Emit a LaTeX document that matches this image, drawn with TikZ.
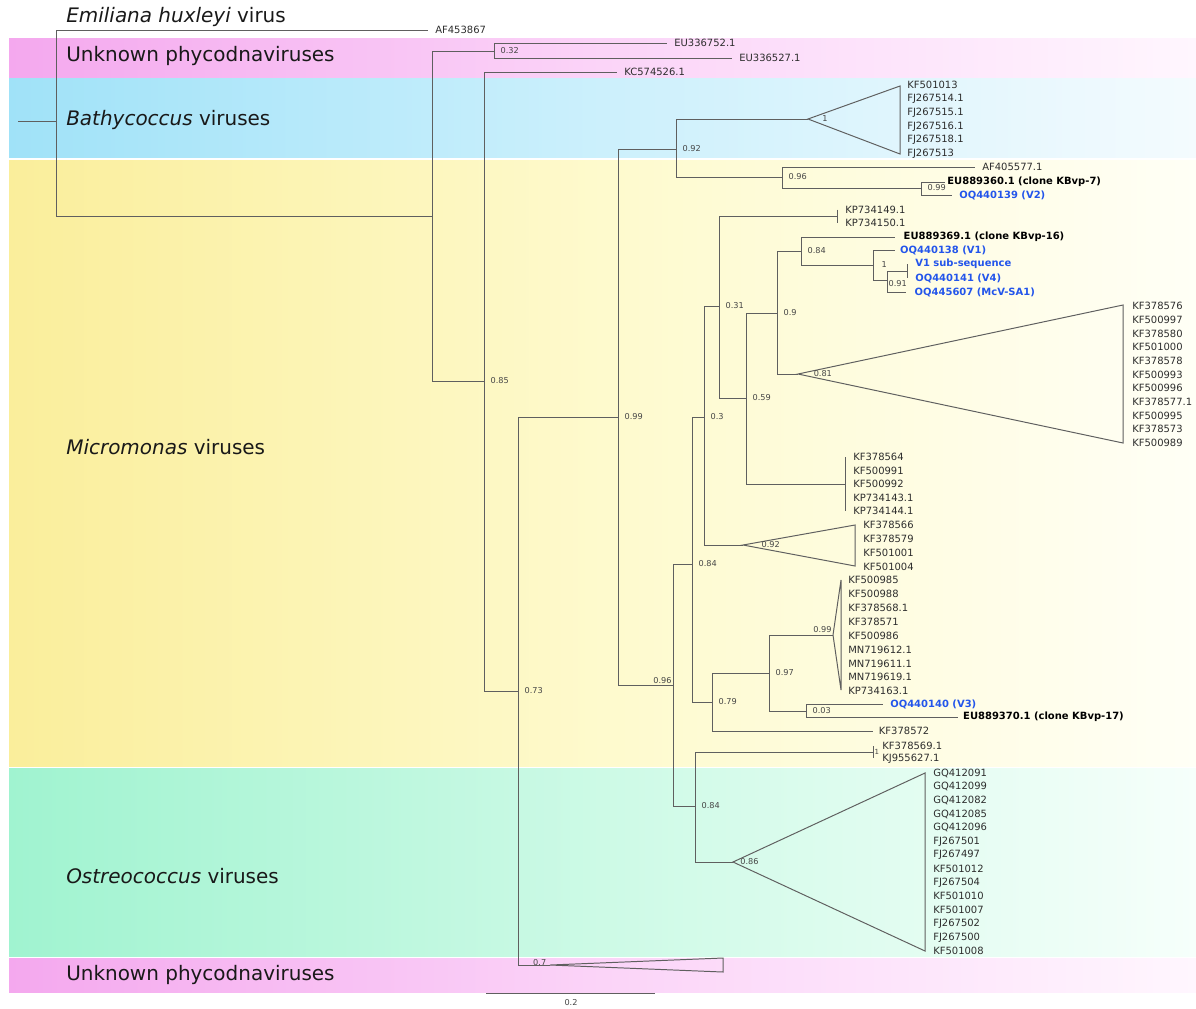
\documentclass[tikz,border=0pt]{standalone}
\usepackage{fontspec}
\setmainfont{DejaVu Sans}
\usetikzlibrary{positioning}

\definecolor{treegray}{RGB}{95,95,95}
\definecolor{labelgray}{RGB}{45,45,45}
\definecolor{supgray}{RGB}{70,70,70}
\definecolor{seqblue}{RGB}{35,85,235}
\definecolor{pinkL}{RGB}{244,168,238}
\definecolor{pinkM}{RGB}{251,212,248}
\definecolor{pinkR}{RGB}{255,246,254}
\definecolor{blueL}{RGB}{160,226,248}
\definecolor{blueM}{RGB}{204,240,252}
\definecolor{blueR}{RGB}{244,251,254}
\definecolor{yellowL}{RGB}{250,238,155}
\definecolor{yellowM}{RGB}{254,250,205}
\definecolor{yellowR}{RGB}{255,255,246}
\definecolor{greenL}{RGB}{160,243,208}
\definecolor{greenM}{RGB}{205,250,230}
\definecolor{greenR}{RGB}{246,255,251}

\tikzset{
  branch/.style={draw=treegray, line width=0.7pt},
  leaf/.style={font=\fontsize{7.1}{8}\selectfont, text=labelgray, inner sep=0pt, anchor=west},
  leafbold/.style={leaf, font=\fontsize{7.1}{8}\selectfont\bfseries, text=black},
  leafblue/.style={leafbold, text=seqblue},
  support/.style={font=\fontsize{5.8}{7}\selectfont, text=supgray, inner sep=0pt},
  group/.style={font=\fontsize{14.2}{16}\selectfont, text=black!90, inner sep=0pt, anchor=west}
}

\begin{document}
\begin{tikzpicture}[x=0.025cm, y=-0.025cm]
\useasboundingbox (0,0) rectangle (1196,1008);

\shade[left color=pinkL, right color=pinkR, middle color=pinkM] (9,38) rectangle (1196,77);
\shade[left color=blueL, right color=blueR, middle color=blueM] (9,78) rectangle (1196,157);
\shade[left color=yellowL, right color=yellowR, middle color=yellowM] (9,160) rectangle (1196,766);
\shade[left color=greenL, right color=greenR, middle color=greenM] (9,768) rectangle (1196,956);
\shade[left color=pinkL, right color=pinkR, middle color=pinkM] (9,958) rectangle (1196,992);

\node[group] (ehv) at (66,17) {\textit{Emiliana huxleyi} virus};
\node[group] (unk1) at (66,56) {Unknown phycodnaviruses};
\node[group] (bat) at (66,120) {\textit{Bathycoccus} viruses};
\node[group] (mic) at (66,447) {\textit{Micromonas} viruses};
\node[group] (ost) at (66,876) {\textit{Ostreococcus} viruses};
\node[group] (unk2) at (66,975) {Unknown phycodnaviruses};

\coordinate (rootstub) at (18,121);
\coordinate (root) at (56,121);
\coordinate (tAF453867) at (428,30);
\coordinate (nA) at (432,216);
\coordinate (n032) at (494,51);
\coordinate (tEU336752) at (667,43);
\coordinate (tEU336527) at (732,58);
\coordinate (n085) at (484,381);
\coordinate (tKC574526) at (617,72);
\coordinate (n073) at (518,691);
\coordinate (n099) at (618,417);
\coordinate (c07) at (550,965);
\coordinate (n092) at (676,149);
\coordinate (cBat) at (808,119);
\coordinate (n096a) at (782,177);
\coordinate (tAF405577) at (975,167);
\coordinate (n099b) at (921,188);
\coordinate (tEU889360) at (945,182);
\coordinate (tOQ440139) at (952,195);
\coordinate (n096) at (673,685);
\coordinate (n084a) at (692,564);
\coordinate (n03) at (704,417);
\coordinate (n031) at (719,306);
\coordinate (pKP) at (837,216);
\coordinate (n059) at (746,398);
\coordinate (n09) at (777,313);
\coordinate (n084b) at (801,251);
\coordinate (tEU889369) at (895,237);
\coordinate (n1) at (873,265);
\coordinate (tOQ440138) at (895,250);
\coordinate (n091) at (887,280);
\coordinate (pV1) at (907,271);
\coordinate (tOQ445607) at (906,292);
\coordinate (c081) at (798,374);
\coordinate (gKF) at (845,484);
\coordinate (c092) at (743,545);
\coordinate (n079) at (712,702);
\coordinate (n097) at (769,673);
\coordinate (c099) at (833,635);
\coordinate (n003) at (806,711);
\coordinate (tOQ440140) at (883,704);
\coordinate (tEU889370) at (958,717);
\coordinate (tKF378572) at (873,731);
\coordinate (n084c) at (695,806);
\coordinate (pKF) at (873,752);
\coordinate (c086) at (733,862);

\draw[branch] (rootstub) -- (root);
\foreach \p/\c in {root/tAF453867,root/nA,nA/n032,nA/n085,n032/tEU336752,n032/tEU336527,
  n085/tKC574526,n085/n073,n073/n099,n073/c07,n099/n092,n099/n096,n092/cBat,n092/n096a,
  n096a/tAF405577,n096a/n099b,n099b/tEU889360,n099b/tOQ440139,n096/n084a,n096/n084c,
  n084a/n03,n084a/n079,n03/n031,n03/c092,n031/pKP,n031/n059,n059/n09,n059/gKF,
  n09/n084b,n09/c081,n084b/tEU889369,n084b/n1,n1/tOQ440138,n1/n091,n091/pV1,n091/tOQ445607,
  n079/n097,n079/tKF378572,n097/c099,n097/n003,n003/tOQ440140,n003/tEU889370,
  n084c/pKF,n084c/c086}
  \draw[branch] (\p) |- (\c);
\foreach \c/\h in {pKP/13,gKF/54,pV1/14,pKF/12}
  \draw[branch] (\c) ++(0,-\h/2) -- ++(0,\h);
\foreach \c/\w/\t/\h in {cBat/92/-33/68,c081/325/-69/138,c092/112/-20/41,c099/8/-55/110,c086/192/-89/178,c07/173/-7/14}
  \draw[branch, line join=miter] (\c) -- ++(\w,\t) -- ++(0,\h) -- cycle;

\node[leaf, right=5pt of tAF453867] (lAF453867) {AF453867};
\node[leaf, right=5pt of tEU336752] (lEU336752) {EU336752.1};
\node[leaf, right=5pt of tEU336527] (lEU336527) {EU336527.1};
\node[leaf, right=5pt of tKC574526] (lKC574526) {KC574526.1};
\node[leaf, right=5pt of tAF405577] (lAF405577) {AF405577.1};
\node[leafbold, right=1.5pt of tEU889360] (lEU889360) {EU889360.1 (clone KBvp-7)};
\node[leafblue, right=5pt of tOQ440139] (lOQ440139) {OQ440139 (V2)};
\node[leafbold, right=6pt of tEU889369] (lEU889369) {EU889369.1 (clone KBvp-16)};
\node[leafblue, right=3.5pt of tOQ440138] (lOQ440138) {OQ440138 (V1)};
\node[leafblue, right=6pt of tOQ445607] (lOQ445607) {OQ445607 (McV-SA1)};
\node[leafblue, right=5pt of tOQ440140] (lOQ440140) {OQ440140 (V3)};
\node[leafbold, right=3.5pt of tEU889370] (lEU889370) {EU889370.1 (clone KBvp-17)};
\node[leaf, right=4pt of tKF378572] (lKF378572) {KF378572};

\foreach \n [count=\i] in {KF501013,FJ267514.1,FJ267515.1,FJ267516.1,FJ267518.1,FJ267513}
  \node[leaf] (bat\i) at (907,{85+(\i-1)*13.8}) {\n};
\foreach \n [count=\i] in {KP734149.1,KP734150.1}
  \node[leaf] (kp\i) at (845,{210+(\i-1)*13}) {\n};
\foreach \n [count=\i] in {V1 sub-sequence,OQ440141 (V4)}
  \node[leafblue] (vone\i) at (915,{264+(\i-1)*14}) {\n};
\foreach \n [count=\i] in {KF378576,KF500997,KF378580,KF501000,KF378578,KF500993,KF500996,KF378577.1,KF500995,KF378573,KF500989}
  \node[leaf] (mic\i) at (1132,{306+(\i-1)*13.7}) {\n};
\foreach \n [count=\i] in {KF378564,KF500991,KF500992,KP734143.1,KP734144.1}
  \node[leaf] (kf\i) at (853,{457+(\i-1)*13.5}) {\n};
\foreach \n [count=\i] in {KF378566,KF378579,KF501001,KF501004}
  \node[leaf] (mictwo\i) at (863,{525+(\i-1)*14}) {\n};
\foreach \n [count=\i] in {KF500985,KF500988,KF378568.1,KF378571,KF500986,MN719612.1,MN719611.1,MN719619.1,KP734163.1}
  \node[leaf] (micthree\i) at (848,{580+(\i-1)*13.9}) {\n};
\foreach \n [count=\i] in {KF378569.1,KJ955627.1}
  \node[leaf] (kfj\i) at (882,{746+(\i-1)*13}) {\n};
\foreach \n [count=\i] in {GQ412091,GQ412099,GQ412082,GQ412085,GQ412096,FJ267501,FJ267497,KF501012,FJ267504,KF501010,KF501007,FJ267502,FJ267500,KF501008}
  \node[leaf] (ost\i) at (933,{773+(\i-1)*13.7}) {\n};

\foreach \n/\v in {n032/0.32,n085/0.85,n073/0.73,n099/0.99,n092/0.92,n096a/0.96,n099b/0.99,
  n084a/0.84,n03/0.3,n031/0.31,n059/0.59,n09/0.9,n084b/0.84,n079/0.79,n097/0.97,n003/0.03,n084c/0.84}
  \node[support, right=4.5pt of \n] (s\n) {\v};
\node[support, right=6pt of n1] (sn1) {1};
\node[support, right=1pt of n091, yshift=-2.8pt] (sn091) {0.91};
\node[support, right=1pt of pKF, font=\fontsize{5}{6}\selectfont] (spKF) {1};
\node[support, above left=1pt and 0.8pt of n096] (sn096) {0.96};
\node[support, above left=1.5pt and 0.8pt of c099] (sc099) {0.99};
\node[support, left=2.5pt of c07, yshift=2pt] (sc07) {0.7};
\node[support, right=10pt of cBat] (scBat) {1};
\node[support, right=11pt of c081] (sc081) {0.81};
\node[support, right=13pt of c092] (sc092) {0.92};
\node[support, right=5pt of c086] (sc086) {0.86};

\coordinate (barL) at (486,993);
\coordinate (barR) at (655,993);
\draw[branch] (barL) -- (barR);
\node[support] (barlabel) at (571,1003) {0.2};

\end{tikzpicture}
\end{document}
